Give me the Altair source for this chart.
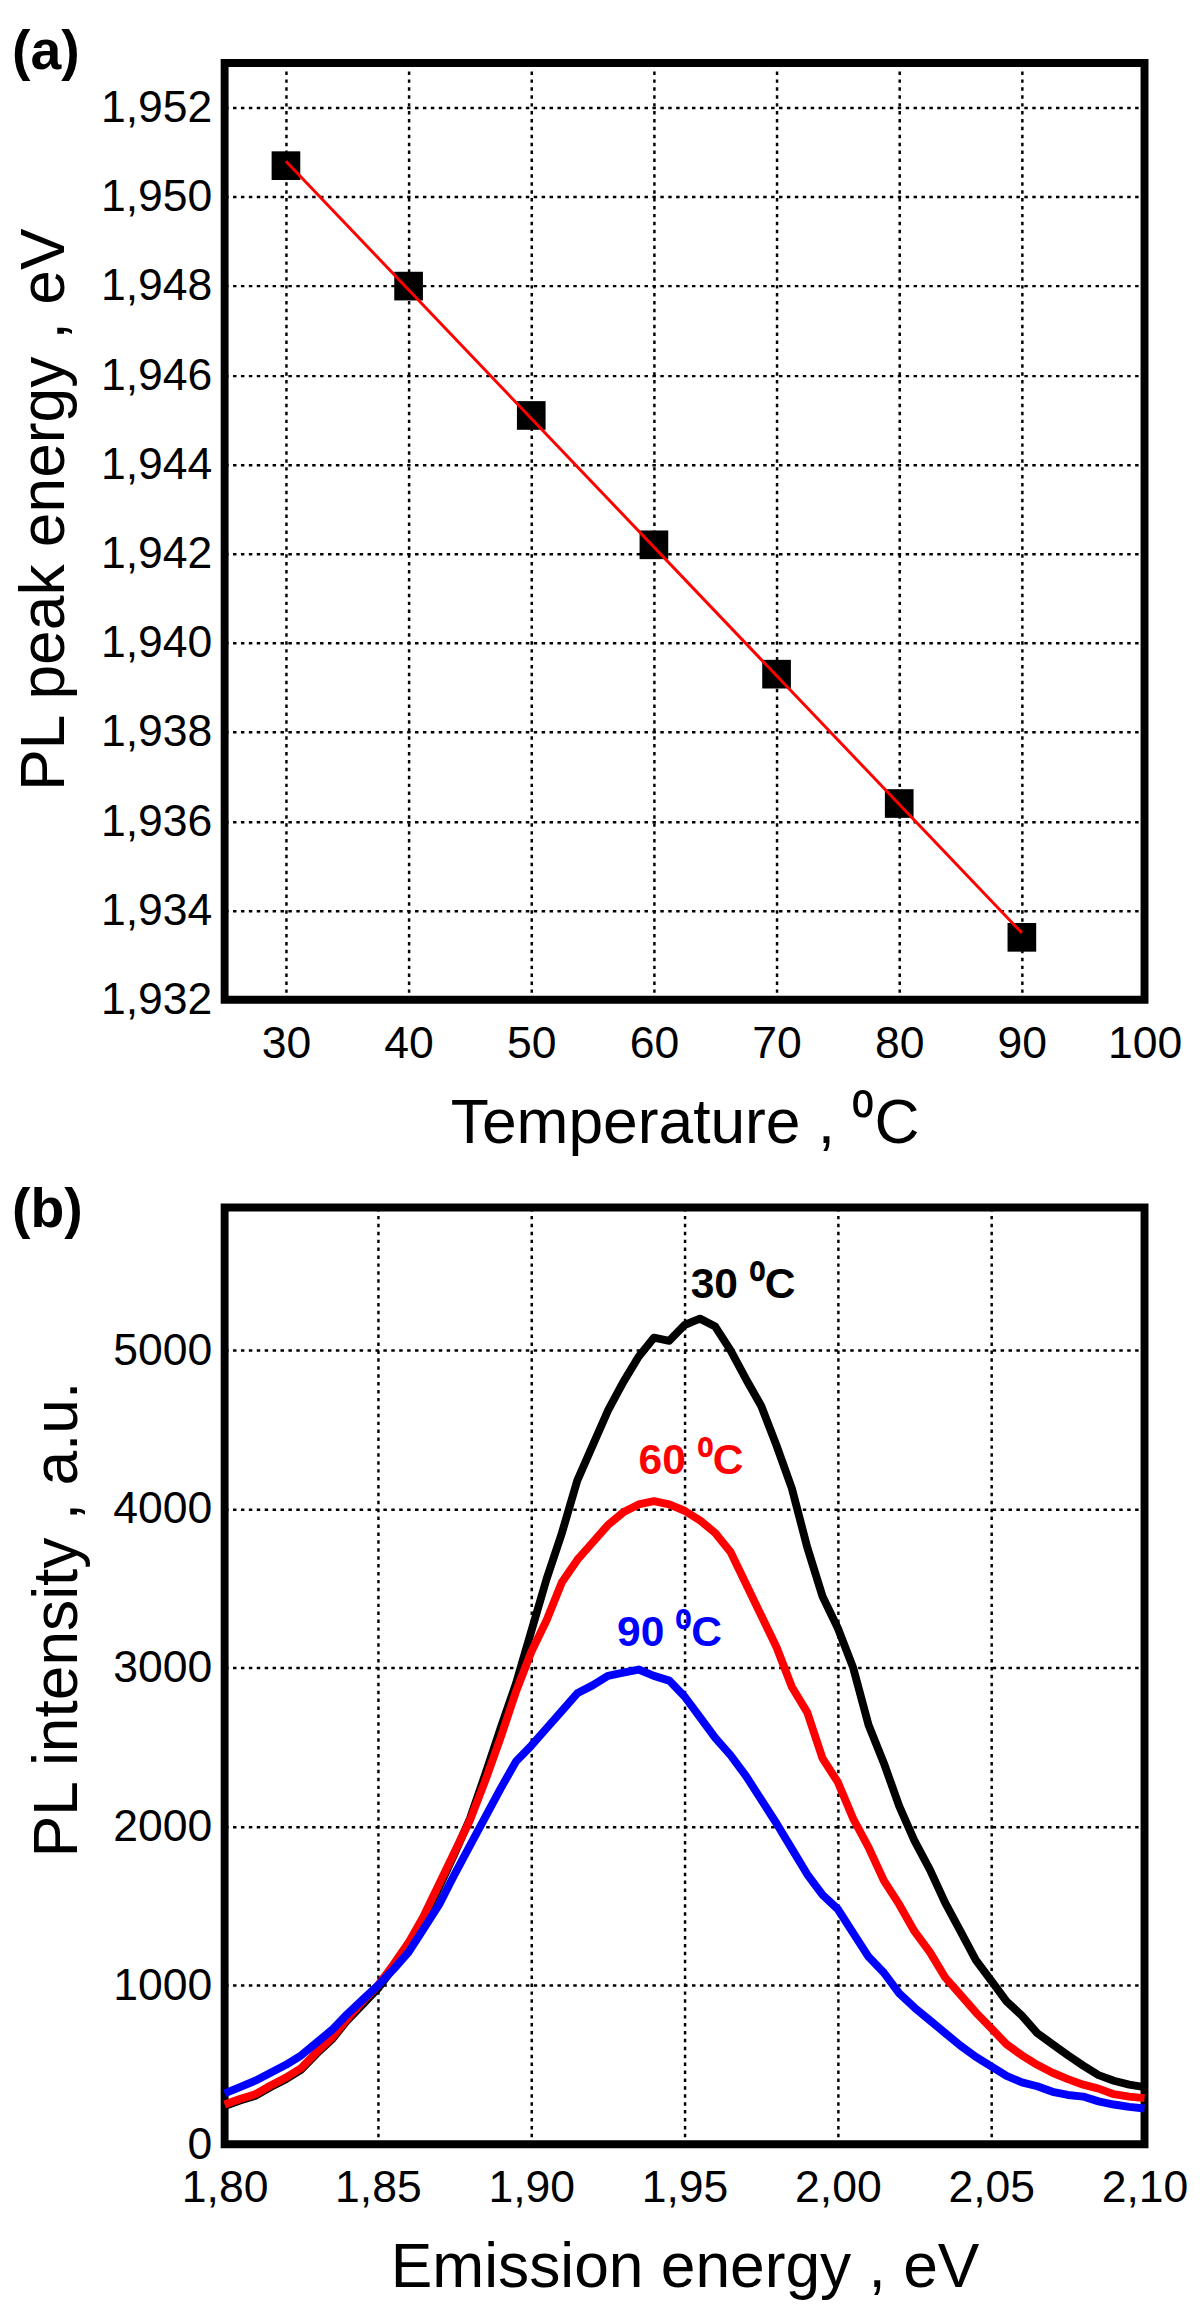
import altair as alt
import pandas as pd

FONT = "Liberation Sans"

# ---------------- Panel (a) data ----------------
temp_c = [30, 40, 50, 60, 70, 80, 90]
peak_ev = [1.9507, 1.9480, 1.9451, 1.9422, 1.9393, 1.9364, 1.9334]
fit_t = [30, 90]
fit_ev = [1.9508, 1.9335]
a_xticks = [30, 40, 50, 60, 70, 80, 90, 100]
a_yticks = [1.932, 1.934, 1.936, 1.938, 1.940, 1.942, 1.944, 1.946, 1.948, 1.950, 1.952]

# ---------------- Panel (b) data ----------------
energy = [1.800, 1.805, 1.810, 1.815, 1.820, 1.825, 1.830, 1.835, 1.840, 1.845,
          1.850, 1.855, 1.860, 1.865, 1.870, 1.875, 1.880, 1.885, 1.890, 1.895,
          1.900, 1.905, 1.910, 1.915, 1.920, 1.925, 1.930, 1.935, 1.940, 1.945,
          1.950, 1.955, 1.960, 1.965, 1.970, 1.975, 1.980, 1.985, 1.990, 1.995,
          2.000, 2.005, 2.010, 2.015, 2.020, 2.025, 2.030, 2.035, 2.040, 2.045,
          2.050, 2.055, 2.060, 2.065, 2.070, 2.075, 2.080, 2.085, 2.090, 2.095,
          2.100]
pl_30 = [240, 275, 305, 360, 410, 470, 570, 660, 780, 880,
         980, 1110, 1250, 1420, 1620, 1830, 2050, 2330, 2620, 2900,
         3230, 3560, 3850, 4180, 4400, 4620, 4800, 4960, 5080, 5060,
         5160, 5200, 5150, 5000, 4820, 4650, 4400, 4130, 3760, 3450,
         3250, 3000, 2640, 2400, 2130, 1910, 1730, 1520, 1340, 1160,
         1030, 900, 810, 700, 630, 560, 495, 435, 400, 375,
         360]
pl_60 = [250, 285, 315, 370, 420, 480, 580, 670, 790, 900,
         1000, 1130, 1270, 1440, 1640, 1840, 2040, 2290, 2560, 2850,
         3100, 3300, 3540, 3680, 3790, 3900, 3980, 4030, 4050, 4030,
         3990, 3930, 3850, 3730, 3530, 3330, 3130, 2880, 2720, 2430,
         2280, 2050, 1870, 1660, 1510, 1340, 1210, 1050, 940, 830,
         730, 630, 560, 500, 450, 410, 375, 350, 315, 300,
         290]
pl_90 = [320, 360, 400, 450, 500, 560, 640, 720, 820, 910,
         1000, 1100, 1210, 1360, 1510, 1700, 1880, 2060, 2240, 2410,
         2510, 2620, 2730, 2840, 2890, 2950, 2970, 2990, 2950, 2920,
         2820, 2690, 2560, 2450, 2320, 2170, 2020, 1860, 1700, 1570,
         1480, 1330, 1180, 1080, 950, 860, 780, 700, 620, 550,
         490, 430, 390, 365, 330, 310, 300, 270, 250, 235,
         225]
b_xticks = [1.80, 1.85, 1.90, 1.95, 2.00, 2.05, 2.10]
b_yticks = [0, 1000, 2000, 3000, 4000, 5000]

ann_text = ["30 \u2070C", "60 \u2070C", "90 \u2070C"]
ann_e = [1.952, 1.935, 1.928]
ann_i = [5330, 4222, 3138]
ann_color = ["#000000", "#ff0000", "#0000ff"]

panel_labels = ["(a)", "(b)"]

# ---------------- Panel (a) ----------------
df_pts = pd.DataFrame({"T": temp_c, "E": peak_ev})
df_fit = pd.DataFrame({"T": fit_t, "E": fit_ev})

xa = alt.X("T:Q",
           scale=alt.Scale(domain=[25, 100], nice=False, zero=False),
           axis=alt.Axis(values=a_xticks, format="d",
                         title="Temperature , \u2070C"))
ya = alt.Y("E:Q",
           scale=alt.Scale(domain=[1.932, 1.953], nice=False, zero=False),
           axis=alt.Axis(values=a_yticks,
                         labelExpr="replace(format(datum.value, '.3f'), '.', ',')",
                         title="PL peak energy , eV", titleY=451))

pts = alt.Chart(df_pts).mark_square(size=840, color="black", opacity=1).encode(x=xa, y=ya)
fit = alt.Chart(df_fit).mark_line(color="#ff0000", strokeWidth=3).encode(x=xa, y=ya)
lab_a = alt.Chart(pd.DataFrame({"label": [panel_labels[0]]})).mark_text(
    align="left", baseline="top", fontSize=56, fontWeight="bold", font=FONT, color="black"
).encode(x=alt.value(-215), y=alt.value(-38), text="label:N")

panel_a = alt.layer(pts, fit, lab_a).properties(width=930, height=947)

# ---------------- Panel (b) ----------------
xb = alt.X("E:Q",
           scale=alt.Scale(domain=[1.80, 2.10], nice=False, zero=False),
           axis=alt.Axis(values=b_xticks,
                         labelExpr="replace(format(datum.value, '.2f'), '.', ',')",
                         title="Emission energy , eV"))
yb = alt.Y("I:Q",
           scale=alt.Scale(domain=[0, 5900], nice=False),
           axis=alt.Axis(values=b_yticks, format="d",
                         title="PL intensity , a.u.", titleY=416))

def curve(vals, color):
    d = pd.DataFrame({"E": energy, "I": vals})
    return alt.Chart(d).mark_line(color=color, strokeWidth=8, strokeJoin="round").encode(x=xb, y=yb)

c30 = curve(pl_30, "#000000")
c60 = curve(pl_60, "#ff0000")
c90 = curve(pl_90, "#0000ff")

df_ann = pd.DataFrame({"E": ann_e, "I": ann_i, "t": ann_text, "c": ann_color})
ann = alt.Chart(df_ann).mark_text(
    align="left", baseline="alphabetic", fontSize=43, fontWeight="bold", font=FONT
).encode(x=xb, y=yb, text="t:N", color=alt.Color("c:N", scale=None))

lab_b = alt.Chart(pd.DataFrame({"label": [panel_labels[1]]})).mark_text(
    align="left", baseline="top", fontSize=56, fontWeight="bold", font=FONT, color="black"
).encode(x=alt.value(-215), y=alt.value(-24), text="label:N")

panel_b = alt.layer(c30, c60, c90, ann, lab_b).properties(width=930, height=947)

chart = alt.vconcat(panel_a, panel_b, spacing=20).properties(
    padding={"left": 0, "top": 0, "right": 0, "bottom": 0}
).configure_view(
    stroke="black", strokeWidth=8
).configure_axis(
    grid=True, gridColor="black", gridDash=[3.5, 4.5], gridWidth=2.5, gridOpacity=1,
    domain=False, ticks=False, tickSize=0,
    labelFont=FONT, labelFontSize=45, labelColor="black",
    titleFont=FONT, titleFontSize=63, titleFontWeight="normal", titleColor="black",
    labelFlush=False, labelOverlap=False
).configure_axisX(
    labelPadding=22, titlePadding=27
).configure_axisY(
    labelPadding=13, titlePadding=24
)

chart.save("out.html", embed_options={"renderer": "svg", "actions": False})
